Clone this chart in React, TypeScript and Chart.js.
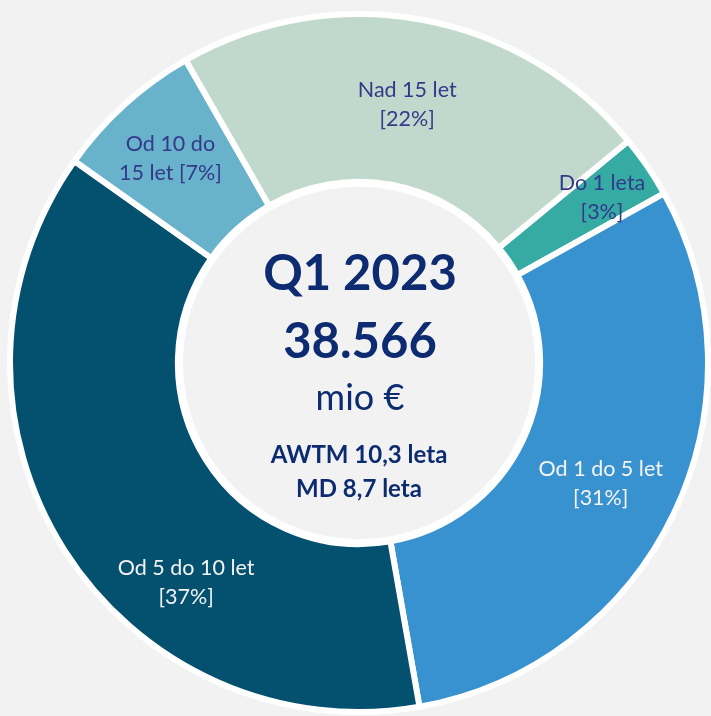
import React, { useEffect, useRef } from "react";
import { Chart, registerables } from "chart.js";

Chart.register(...registerables);

// ---- data ----
const categories = ["Do 1 leta", "Od 1 do 5 let", "Od 5 do 10 let", "Od 10 do 15 let", "Nad 15 let"];
const shares = [2.9, 30.3, 37.6, 6.9, 22.3];
const labelLines = [
  ["Do 1 leta", "[3%]"],
  ["Od 1 do 5 let", "[31%]"],
  ["Od 5 do 10 let", "[37%]"],
  ["Od 10 do", "15 let [7%]"],
  ["Nad 15 let", "[22%]"],
];
const centerLines = ["Q1 2023", "38.566", "mio €", "AWTM 10,3 leta", "MD 8,7 leta"];

// ---- styles ----
const sliceColors = ["#36aba3", "#3892d0", "#03506f", "#68b2cb", "#c1d9cc"];
const labelColors = ["#34398a", "#f4f4f4", "#f4f4f4", "#34398a", "#34398a"];
const labelNudge = [
  { dr: 29, da: 0 },
  { dr: 5, da: 1 },
  { dr: 14, da: -19.4 },
  { dr: 13, da: -0.5 },
  { dr: -2, da: 0.2 },
];
const FONT = "Lato, 'Open Sans', sans-serif";
const BG = "#f2f2f2";
const CENTER_COLOR = "#0c2b70";

const overlayPlugin = {
  id: "overlay",
  afterDatasetsDraw(chart: any) {
    const meta = chart.getDatasetMeta(0);
    const arcs = meta.data;
    if (!arcs.length) return;
    const ctx = chart.ctx;
    const a0 = arcs[0];
    const cx = a0.x;
    const cy = a0.y;
    const inner = a0.innerRadius;
    const outer = a0.outerRadius;

    // inner disc with white ring
    ctx.save();
    ctx.beginPath();
    ctx.arc(cx, cy, inner + 2, 0, Math.PI * 2);
    ctx.fillStyle = "#ffffff";
    ctx.fill();
    ctx.beginPath();
    ctx.arc(cx, cy, inner - 5, 0, Math.PI * 2);
    ctx.fillStyle = BG;
    ctx.fill();

    // slice labels
    ctx.textAlign = "center";
    ctx.textBaseline = "alphabetic";
    ctx.font = `21.5px ${FONT}`;
    arcs.forEach((arc: any, i: number) => {
      const mid = (arc.startAngle + arc.endAngle) / 2 + (labelNudge[i].da * Math.PI) / 180;
      const r = (inner + outer) / 2 + labelNudge[i].dr;
      const x = cx + Math.cos(mid) * r;
      const y = cy + Math.sin(mid) * r;
      ctx.fillStyle = labelColors[i];
      const lines = labelLines[i];
      const lh = 29;
      lines.forEach((ln: string, k: number) => {
        const yy = y + (k - (lines.length - 1) / 2) * lh + 7;
        ctx.fillText(ln, x, yy);
      });
    });

    // center text
    ctx.fillStyle = CENTER_COLOR;
    ctx.font = `bold 49px ${FONT}`;
    ctx.fillText(centerLines[0], cx + 1, cy - 73);
    ctx.fillText(centerLines[1], cx + 1, cy - 5);
    ctx.font = `36px ${FONT}`;
    ctx.fillText(centerLines[2], cx + 1, cy + 47);
    ctx.font = `bold 24px ${FONT}`;
    ctx.fillText(centerLines[3], cx, cy + 100);
    ctx.fillText(centerLines[4], cx, cy + 134);
    ctx.restore();
  },
};

export default function App() {
  const ref = useRef<HTMLCanvasElement | null>(null);
  useEffect(() => {
    if (!ref.current) return;
    const chart = new Chart(ref.current, {
      type: "doughnut",
      data: {
        labels: categories,
        datasets: [
          {
            data: shares,
            backgroundColor: sliceColors,
            borderColor: "#ffffff",
            borderWidth: 6,
            hoverOffset: 0,
          },
        ],
      },
      options: {
        responsive: false,
        animation: false,
        rotation: 50.5,
        cutout: "51.9%",
        layout: { padding: { left: 7, right: 0, top: 11, bottom: 1 } },
        plugins: {
          legend: { display: false },
          tooltip: { enabled: false },
        },
      },
      plugins: [overlayPlugin],
    });
    return () => chart.destroy();
  }, []);
  return (
    <div style={{ position: "absolute", left: 0, top: 0, width: 711, height: 716, background: BG }}>
      <canvas ref={ref} width={711} height={716} style={{ display: "block" }} />
    </div>
  );
}
